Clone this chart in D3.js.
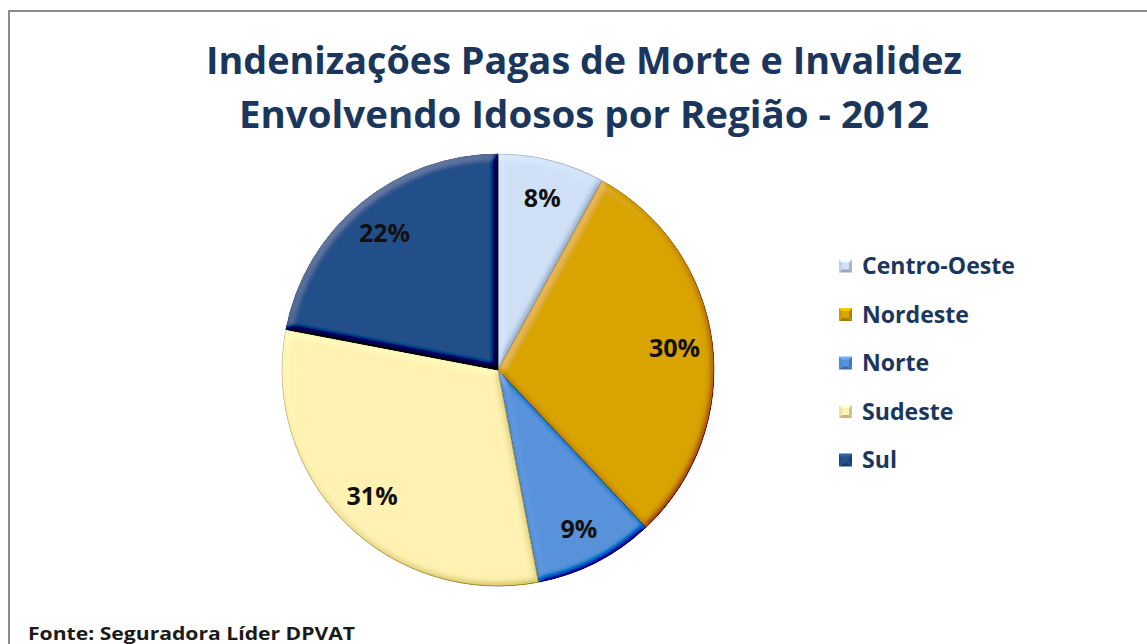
<!DOCTYPE html>
<html>
<head>
<meta charset="utf-8">
<script src="https://cdn.jsdelivr.net/npm/d3@7"></script>
<style>
  html, body { margin: 0; padding: 0; background: #fff; }
  svg { display: block; }
  text { font-family: "Open Sans", "Noto Sans", sans-serif; font-weight: bold; }
</style>
</head>
<body>
<svg id="chart" width="1147" height="644"></svg>
<script>
// ---- data ----
const titleLines = ["Indenizações Pagas de Morte e Invalidez", "Envolvendo Idosos por Região - 2012"];
const categories = ["Centro-Oeste", "Nordeste", "Norte", "Sudeste", "Sul"];
const values = [8, 30, 9, 31, 22];
const sliceColors = ["#CFE0F7", "#D9A400", "#5892DB", "#FFF2B2", "#245089"];
const sourceNote = "Fonte: Seguradora Líder DPVAT";

// ---- drawing ----
const W = 1147, H = 644;
const svg = d3.select("#chart");

// bevel filter
const defs = svg.append("defs");
const f = defs.append("filter").attr("id", "bevel")
  .attr("x", "-5%").attr("y", "-5%").attr("width", "110%").attr("height", "110%");
f.append("feGaussianBlur").attr("in", "SourceAlpha").attr("stdDeviation", 3.5).attr("result", "blur");
const dl = f.append("feDiffuseLighting").attr("in", "blur").attr("surfaceScale", 5)
  .attr("diffuseConstant", 1).attr("lighting-color", "#ffffff").attr("result", "light");
dl.append("feDistantLight").attr("azimuth", 235).attr("elevation", 50);
f.append("feComposite").attr("in", "SourceGraphic").attr("in2", "light")
  .attr("operator", "arithmetic").attr("k1", 0).attr("k2", 1).attr("k3", 0.45).attr("k4", -0.345)
  .attr("result", "lit");
f.append("feComposite").attr("in", "lit").attr("in2", "SourceAlpha").attr("operator", "in");

// border of the chart area
svg.append("path")
  .attr("d", `M9,${H + 5} L9,11 L${W + 5},11`)
  .attr("fill", "none").attr("stroke", "#8a8a8a").attr("stroke-width", 2);

// title
const titleColor = "#1B365D";
const titleSpecs = [{ y: 74, w: 756 }, { y: 128, w: 690 }];
titleLines.forEach((t, i) => {
  svg.append("text")
    .attr("x", 584).attr("y", titleSpecs[i].y)
    .attr("text-anchor", "middle")
    .attr("font-size", 38)
    .attr("fill", titleColor)
    .attr("textLength", titleSpecs[i].w)
    .attr("lengthAdjust", "spacingAndGlyphs")
    .text(t);
});

// pie
const cx = 498, cy = 370, R = 216;
const pie = d3.pie().sort(null).value(d => d).startAngle(0).endAngle(2 * Math.PI);
const arcs = pie(values);
const arc = d3.arc().innerRadius(0).outerRadius(R);
const labelArc = d3.arc().innerRadius(178).outerRadius(178);

const g = svg.append("g").attr("transform", `translate(${cx},${cy})`);
g.selectAll("path.slice")
  .data(arcs)
  .join("path")
  .attr("class", "slice")
  .attr("d", arc)
  .attr("fill", (d, i) => sliceColors[i])
  .attr("stroke", (d, i) => d3.color(sliceColors[i]).darker(0.6))
  .attr("stroke-width", 1)
  .attr("filter", "url(#bevel)");

g.selectAll("text.lbl")
  .data(arcs)
  .join("text")
  .attr("class", "lbl")
  .attr("transform", d => `translate(${labelArc.centroid(d)})`)
  .attr("text-anchor", "middle")
  .attr("dy", "0.36em")
  .attr("font-size", 25)
  .attr("fill", "#111")
  .text(d => d.data + "%");

// legend
const legendX = 839, legendY0 = 266, legendStep = 48.5, ms = 13;
const leg = svg.append("g");
let legScale = null;
categories.forEach((c, i) => {
  const y = legendY0 + i * legendStep;
  const col = d3.color(sliceColors[i]);
  const x0 = legendX, y0 = y - ms / 2, x1 = x0 + ms, y1 = y0 + ms, mx = x0 + ms / 2, my = y;
  const tris = [
    { p: [[x0, y0], [x1, y0], [mx, my]], c: col.brighter(0.5) },
    { p: [[x0, y0], [x0, y1], [mx, my]], c: col.darker(0.2) },
    { p: [[x1, y0], [x1, y1], [mx, my]], c: col.darker(0.6) },
    { p: [[x0, y1], [x1, y1], [mx, my]], c: col.darker(0.8) }
  ];
  tris.forEach(t => {
    leg.append("path").attr("d", d3.line()(t.p) + "Z").attr("fill", t.c);
  });
  leg.append("rect").attr("x", x0 + 3).attr("y", y0 + 3).attr("width", ms - 6).attr("height", ms - 6).attr("fill", col);
  const tx = leg.append("text")
    .attr("x", 862).attr("y", y + 8)
    .attr("font-size", 23)
    .attr("fill", titleColor)
    .text(c);
  const len = tx.node().getComputedTextLength();
  if (legScale === null) legScale = 153 / len;
  tx.attr("textLength", len * legScale).attr("lengthAdjust", "spacingAndGlyphs");
});

// source note
svg.append("text")
  .attr("x", 28).attr("y", 640)
  .attr("font-size", 18)
  .attr("fill", "#1a1a1a")
  .attr("textLength", 327)
  .attr("lengthAdjust", "spacingAndGlyphs")
  .text(sourceNote);
</script>
</body>
</html>
